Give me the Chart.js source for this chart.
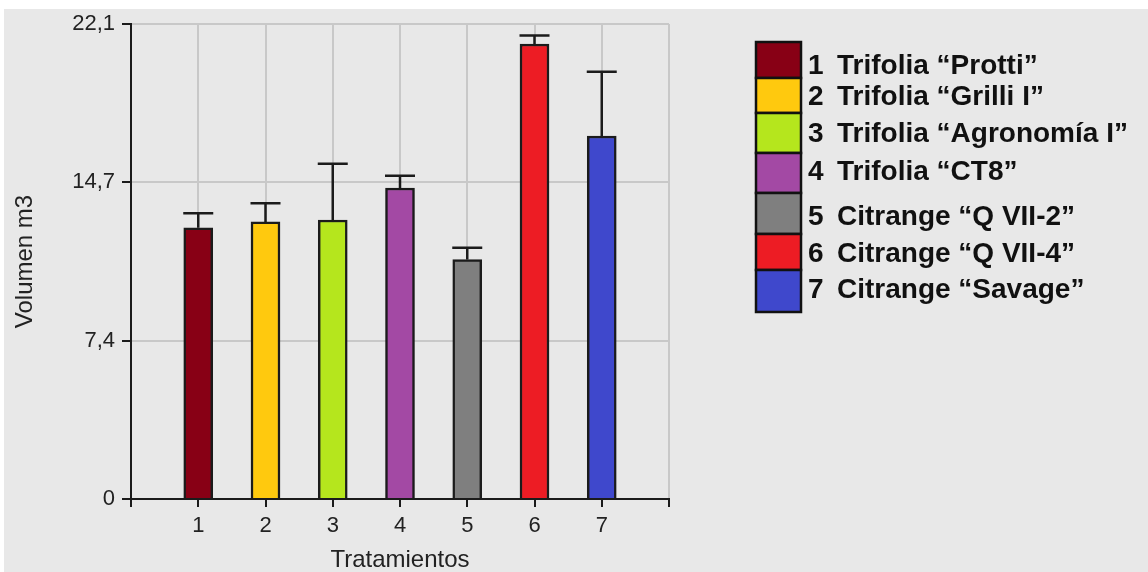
<!DOCTYPE html>
<html>
<head>
<meta charset="utf-8">
<script src="https://cdn.jsdelivr.net/npm/chart.js@4/dist/chart.umd.min.js"></script>
<style>
  html, body { margin: 0; padding: 0; background: #ffffff; overflow: hidden; }
  canvas { display: block; }
</style>
</head>
<body>
<canvas id="chart" width="1148" height="572"></canvas>
<script>
// Treatment positions on the x axis and their tick labels
const treatments = [1, 2, 3, 4, 5, 6, 7];
const tickLabels = ['1', '2', '3', '4', '5', '6', '7'];

// Mean canopy volume (m3) and the upper error for each rootstock
const volumeMean = [12.62, 12.89, 12.98, 14.47, 11.14, 21.17, 16.89];
const volumeError = [0.67, 0.87, 2.62, 0.57, 0.55, 0.39, 2.99];

// Fill colour of each treatment
const barColors = ['#880015', '#ffc90e', '#b5e61d', '#a349a4', '#7f7f7f', '#ed1c24', '#3f48cc'];

// Legend entries
const legendNumbers = ['1', '2', '3', '4', '5', '6', '7'];
const legendNames = [
  'Trifolia “Protti”',
  'Trifolia “Grilli I”',
  'Trifolia “Agronomía I”',
  'Trifolia “CT8”',
  'Citrange “Q VII-2”',
  'Citrange “Q VII-4”',
  'Citrange “Savage”'
];

// Axis tick values
const yTickValues = [0, 7.367, 14.733, 22.1];
const xTickValues = [0, 1, 2, 3, 4, 5, 6, 7, 8];

const FONT = "'Liberation Sans', Arial, sans-serif";
const INK = '#1b1b1b';

// Page background: white strip on top/left, gray panel behind the chart
const backgroundPlugin = {
  id: 'panelBackground',
  beforeDraw(chart) {
    const { ctx, width, height } = chart;
    ctx.save();
    ctx.fillStyle = '#ffffff';
    ctx.fillRect(0, 0, width, height);
    ctx.fillStyle = '#e8e8e8';
    ctx.fillRect(4, 9, width - 4, height - 9);
    ctx.restore();
  }
};

// Upper error bars with a cap as wide as the bar
const errorBarPlugin = {
  id: 'errorBars',
  afterDatasetsDraw(chart, args, opts) {
    const { ctx, scales: { x, y } } = chart;
    ctx.save();
    ctx.strokeStyle = INK;
    ctx.lineWidth = opts.lineWidth;
    treatments.forEach((t, i) => {
      const px = x.getPixelForValue(t);
      const y0 = y.getPixelForValue(volumeMean[i]);
      const y1 = y.getPixelForValue(volumeMean[i] + volumeError[i]);
      ctx.beginPath();
      ctx.moveTo(px, y0);
      ctx.lineTo(px, y1);
      ctx.moveTo(px - opts.capHalf, y1);
      ctx.lineTo(px + opts.capHalf, y1);
      ctx.stroke();
    });
    ctx.restore();
  }
};

// Stacked colour-box legend on the right side
const sideLegendPlugin = {
  id: 'sideLegend',
  afterDraw(chart, args, opts) {
    const ctx = chart.ctx;
    ctx.save();
    for (let i = 0; i < legendNames.length; i++) {
      const top = opts.edges[i];
      const h = opts.edges[i + 1] - top;
      ctx.fillStyle = barColors[i];
      ctx.fillRect(opts.boxX, top, opts.boxW, h);
      ctx.lineWidth = 2.5;
      ctx.strokeStyle = '#111111';
      ctx.strokeRect(opts.boxX, top, opts.boxW, h);
    }
    ctx.fillStyle = '#111111';
    ctx.font = 'bold 28px ' + FONT;
    ctx.textBaseline = 'alphabetic';
    ctx.textAlign = 'left';
    for (let i = 0; i < legendNames.length; i++) {
      ctx.fillText(legendNumbers[i], opts.numX, opts.baselines[i]);
      ctx.fillText(legendNames[i], opts.nameX, opts.baselines[i]);
    }
    ctx.restore();
  }
};

const formatY = v => (v === 0 ? '0' : v.toFixed(1).replace('.', ','));

new Chart(document.getElementById('chart'), {
  type: 'bar',
  data: {
    datasets: [{
      data: treatments.map((t, i) => ({ x: t, y: volumeMean[i] })),
      backgroundColor: barColors,
      borderColor: INK,
      borderWidth: 2.5,
      borderSkipped: 'start',
      barThickness: 29
    }]
  },
  options: {
    responsive: false,
    animation: false,
    devicePixelRatio: 1,
    layout: { padding: { left: 0, top: 24, right: 479, bottom: 0 } },
    plugins: {
      legend: { display: false },
      tooltip: { enabled: false },
      errorBars: { lineWidth: 2.5, capHalf: 15 },
      sideLegend: {
        boxX: 756, boxW: 45, numX: 808, nameX: 837,
        edges: [42, 78, 113, 153, 193, 234, 270, 312],
        baselines: [74, 105, 142, 180, 225, 262, 298]
      }
    },
    scales: {
      x: {
        type: 'linear',
        min: 0,
        max: 8,
        offset: false,
        afterBuildTicks: s => { s.ticks = xTickValues.map(v => ({ value: v })); },
        afterFit: s => { s.height = 73; },
        grid: { offset: false, color: '#c8c8c8', lineWidth: 2, tickColor: INK, tickWidth: 2, tickLength: 8 },
        border: { color: INK, width: 2 },
        ticks: {
          callback: v => (v >= 1 && v <= 7 ? tickLabels[v - 1] : ''),
          font: { family: FONT, size: 22 },
          color: '#222',
          padding: 6,
          maxRotation: 0,
          autoSkip: false
        },
        title: {
          display: true,
          text: 'Tratamientos',
          font: { family: FONT, size: 24, lineHeight: 1 },
          color: '#222',
          padding: { top: 0, bottom: 0 }
        }
      },
      y: {
        min: 0,
        max: 22.1,
        afterBuildTicks: s => { s.ticks = yTickValues.map(v => ({ value: v })); },
        afterFit: s => { s.width = 131; },
        grid: { color: '#c8c8c8', lineWidth: 2, tickColor: INK, tickWidth: 2, tickLength: 9 },
        border: { color: INK, width: 2 },
        ticks: {
          callback: v => formatY(v),
          font: { family: FONT, size: 22 },
          color: '#222',
          padding: 7
        },
        title: {
          display: true,
          text: 'Volumen m3',
          font: { family: FONT, size: 24, lineHeight: 1 },
          color: '#222',
          padding: { top: 13, bottom: 0 }
        }
      }
    }
  },
  plugins: [backgroundPlugin, errorBarPlugin, sideLegendPlugin]
});
</script>
</body>
</html>
